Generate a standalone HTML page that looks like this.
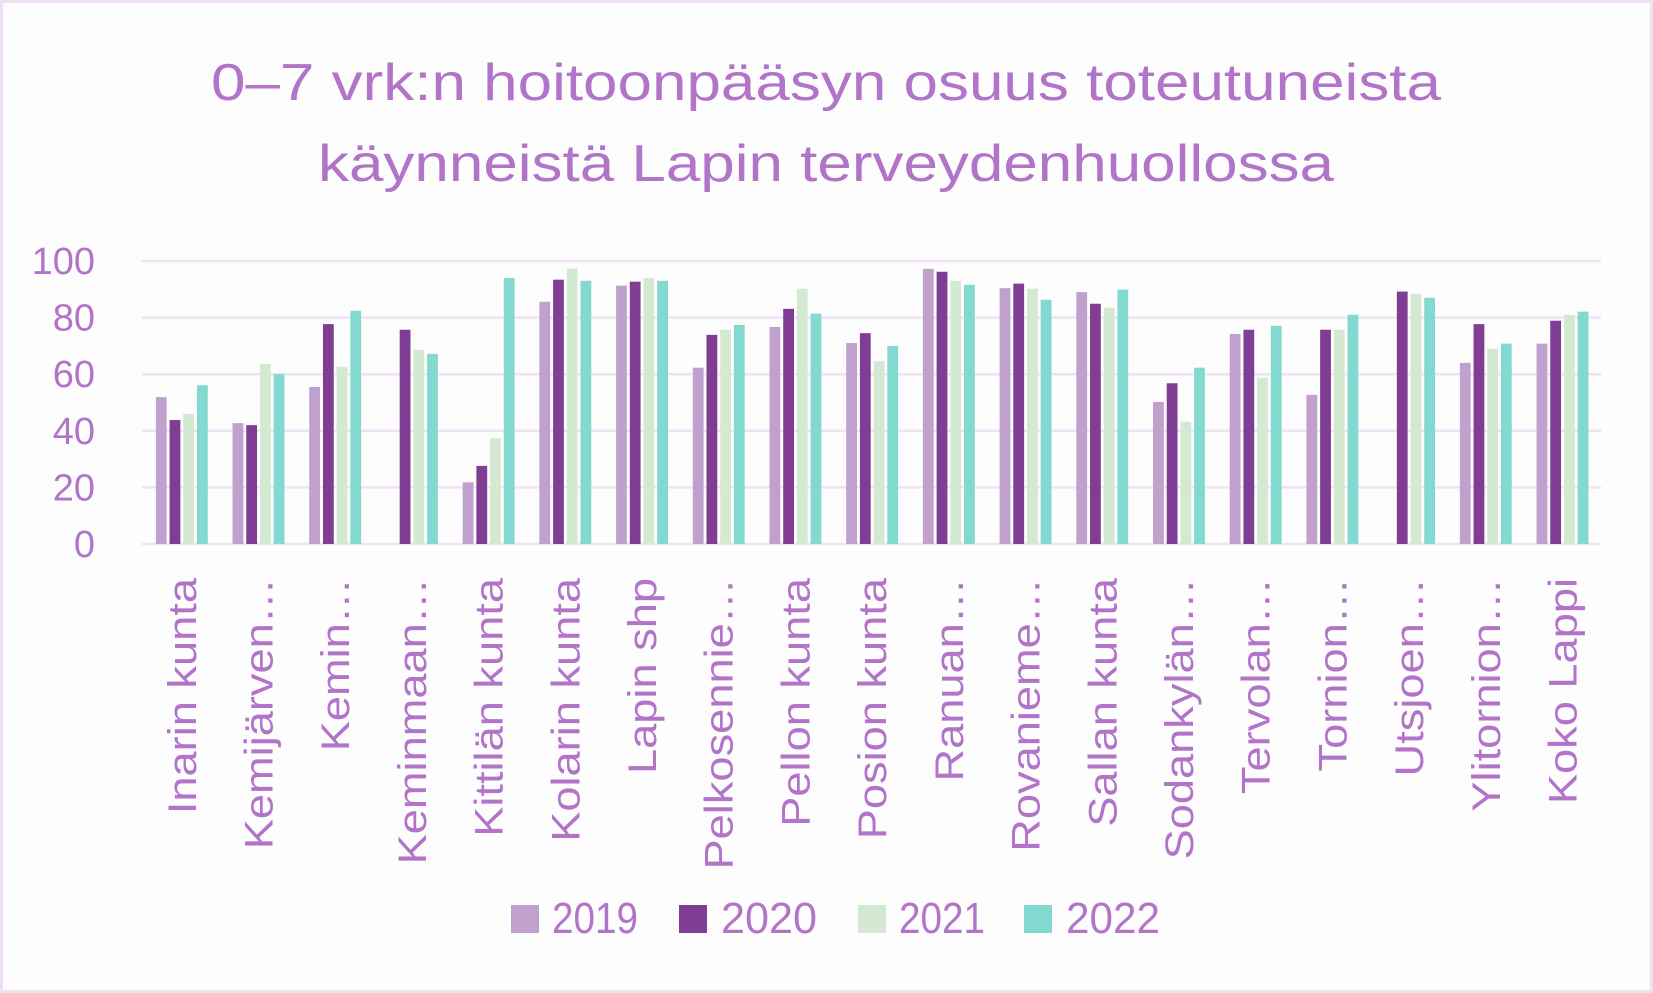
<!DOCTYPE html>
<html><head><meta charset="utf-8"><style>
html,body{margin:0;padding:0;background:#fdfdfd;}
svg{display:block;font-family:"Liberation Sans",sans-serif;}
</style></head><body>
<svg id="chart" width="1653" height="993" viewBox="0 0 1653 993" xmlns="http://www.w3.org/2000/svg">
<rect x="1.5" y="1.5" width="1650" height="990" fill="#fdfdfd" stroke="#eedff3" stroke-width="3"/>
<text x="826" y="100" text-anchor="middle" font-size="52" fill="#b274c9" textLength="1230" lengthAdjust="spacingAndGlyphs">0–7 vrk:n hoitoonpääsyn osuus toteutuneista</text>
<text x="826" y="181" text-anchor="middle" font-size="52" fill="#b274c9" textLength="1016" lengthAdjust="spacingAndGlyphs">käynneistä Lapin terveydenhuollossa</text>
<g id="grid"></g><g id="bars"></g><g id="xlabels"></g>
<g>
<rect x="511" y="905" width="28" height="28" fill="#c0a0cc"/>
<text x="552" y="933" font-size="44" fill="#b274c9" textLength="86" lengthAdjust="spacingAndGlyphs">2019</text>
<rect x="679" y="905" width="28" height="28" fill="#7f3e93"/>
<text x="721" y="933" font-size="44" fill="#b274c9" textLength="96" lengthAdjust="spacingAndGlyphs">2020</text>
<rect x="858" y="905" width="28" height="28" fill="#d4e9d1"/>
<text x="899" y="933" font-size="44" fill="#b274c9" textLength="86" lengthAdjust="spacingAndGlyphs">2021</text>
<rect x="1024" y="905" width="28" height="28" fill="#82d9cf"/>
<text x="1066" y="933" font-size="44" fill="#b274c9" textLength="94" lengthAdjust="spacingAndGlyphs">2022</text>
</g>
</svg>
<script>
const categories = ["Inarin kunta","Kemijärven…","Kemin…","Keminmaan…","Kittilän kunta","Kolarin kunta","Lapin shp","Pelkosennie…","Pellon kunta","Posion kunta","Ranuan…","Rovanieme…","Sallan kunta","Sodankylän…","Tervolan…","Tornion…","Utsjoen…","Ylitornion…","Koko Lappi"];
const s2019 = [51.9,42.7,55.5,null,21.8,85.6,91.3,62.3,76.7,71,97.2,90.4,89,50.2,74.2,52.7,null,64,70.8];
const s2020 = [43.8,42,77.7,75.7,27.6,93.4,92.7,73.9,83.1,74.5,96.2,92,84.9,56.8,75.7,75.7,89.2,77.7,78.9];
const s2021 = [46,63.6,62.6,68.6,37.4,97.3,94,75.7,90.2,64.6,93,90.2,83.5,43.2,58.7,75.7,88.4,69,81];
const s2022 = [56.1,60,82.4,67.2,94,93,93,77.4,81.4,70,91.6,86.3,89.9,62.3,77.1,81,87,70.8,82.1];
const yTicks = [0,20,40,60,80,100];
const seriesNames = ["2019","2020","2021","2022"];

const NS="http://www.w3.org/2000/svg";
const X0=142,X1=1601,Y0=544,Y1=261;
const yScale=v=>Y0-(v/100)*(Y0-Y1);
const firstC=181.8,lastC=1562.5;
const xCenter=i=>firstC+(lastC-firstC)*i/(categories.length-1);
const colors=["#c0a0cc","#7f3e93","#d4e9d1","#82d9cf"];
const series=[s2019,s2020,s2021,s2022];
const grid=document.getElementById('grid');
yTicks.forEach(t=>{
  const y=yScale(t);
  const l=document.createElementNS(NS,'line');
  
  
  l.setAttribute('x1',X0);l.setAttribute('x2',X1);l.setAttribute('y1',y);l.setAttribute('y2',y);
  l.setAttribute('stroke','#efe2f4');l.setAttribute('stroke-width','2.5');
  grid.appendChild(l);
  const tx=document.createElementNS(NS,'text');
  
  
  tx.setAttribute('x',95);tx.setAttribute('y',y+13);
  tx.setAttribute('text-anchor','end');tx.setAttribute('font-size','38');tx.setAttribute('fill','#b274c9');
  tx.textContent=t;grid.appendChild(tx);
});
const bars=document.getElementById('bars');
const bw=10.8,pitch=13.7;
categories.forEach((c,i)=>{
  series.forEach((s,k)=>{
    const v=s[i]; if(v==null) return;
    const r=document.createElementNS(NS,'rect');
    
    
    const x=xCenter(i)-(3*pitch+bw)/2+k*pitch;
    r.setAttribute('x',x);r.setAttribute('width',bw);
    r.setAttribute('y',yScale(v));r.setAttribute('height',Y0-yScale(v));
    r.setAttribute('fill',colors[k]);
    bars.appendChild(r);
  });
  const t=document.createElementNS(NS,'text');
  
  
  const lx=xCenter(i)+14, ly=578;
  t.setAttribute('transform','translate('+lx+','+ly+') rotate(-90)');
  t.setAttribute('text-anchor','end');t.setAttribute('font-size','40');t.setAttribute('fill','#b274c9');
  t.textContent=c;
  document.getElementById('xlabels').appendChild(t);
  const len=t.getComputedTextLength();
  if(len>0){t.setAttribute('textLength',(len*1.13).toFixed(1));t.setAttribute('lengthAdjust','spacingAndGlyphs');}
});
</script>
</body></html>
